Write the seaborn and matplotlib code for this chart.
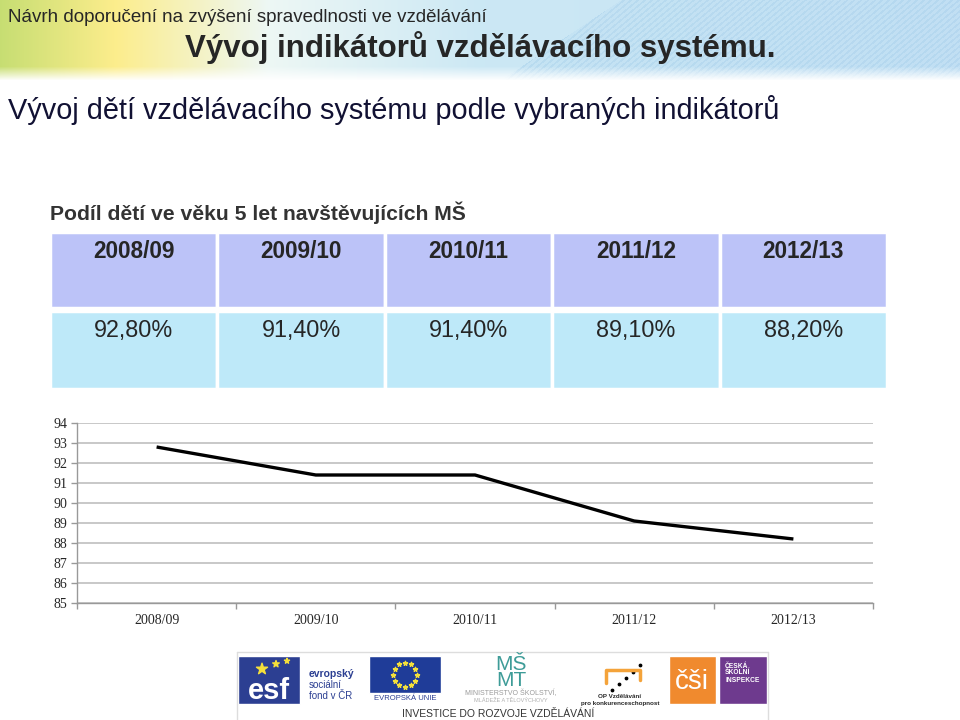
import numpy as np
import pandas as pd
import matplotlib
matplotlib.use('Agg')
from matplotlib import pyplot as plt
from matplotlib.patches import Rectangle
import seaborn as sns

# data
years = ['2008/09', '2009/10', '2010/11', '2011/12', '2012/13']
share = [92.8, 91.4, 91.4, 89.1, 88.2]
share_labels = ['92,80%', '91,40%', '91,40%', '89,10%', '88,20%']
y_ticks = list(range(85, 95))

header_top = 'Návrh doporučení na zvýšení spravedlnosti ve vzdělávání'
title = 'Vývoj indikátorů vzdělávacího systému.'
subtitle = 'Vývoj dětí vzdělávacího systému podle vybraných indikátorů'
table_title = 'Podíl dětí ve věku 5 let navštěvujících MŠ'

sns.set_theme(style='white')
SANS = ['Liberation Sans', 'DejaVu Sans']
SERIF = ['Liberation Serif', 'DejaVu Serif']
plt.rcParams['font.family'] = SANS

fig = plt.figure(figsize=(9.6, 7.2), dpi=100)

# background layer in pixel coordinates
bg = fig.add_axes([0, 0, 1, 1])
bg.set_xlim(0, 960)
bg.set_ylim(720, 0)
bg.axis('off')

# header gradient band
W, H = 960, 80
xx = np.linspace(0, 1, W)
grad = np.ones((H, W, 3))
stops = [0.0, 0.12, 0.28, 0.5, 1.0]
cols = np.array([[0.78, 0.87, 0.45], [0.99, 0.93, 0.55], [0.93, 0.97, 0.96],
                 [0.80, 0.91, 0.96], [0.78, 0.89, 0.96]])
for c in range(3):
    grad[:, :, c] = np.interp(xx, stops, cols[:, c])
yy, xg = np.mgrid[0:H, 0:W]
diag = xg > 620 - (yy / H) * 120
stripes = (np.sin((xg + yy * 1.2) * 0.9) > 0.3) & diag
grad[diag] = grad[diag] * 0.9 + np.array([0.55, 0.75, 0.90]) * 0.1
grad[stripes] = grad[stripes] * 0.85 + np.array([0.45, 0.68, 0.86]) * 0.15
fade = np.clip((yy - 66) / 14, 0, 1)[..., None]
grad = grad * (1 - fade) + fade
bg.imshow(grad, extent=(0, 960, 80, 0), aspect='auto', zorder=0)

bg.text(8, 17, header_top, fontsize=13.5, va='center', ha='left')
bg.text(480, 48, title, fontsize=22.5, weight='bold', va='center', ha='center')
bg.text(8, 110, subtitle, fontsize=20.8, color='#111133', va='center', ha='left')
bg.text(50, 213, table_title, fontsize=15.2, weight='bold', color='#333333',
        va='center', ha='left')

# table
tx0, tx1 = 50, 887
cw = (tx1 - tx0) / len(years)
for i, (yr, lab) in enumerate(zip(years, share_labels)):
    x0 = tx0 + i * cw
    bg.add_patch(Rectangle((x0, 232), cw, 76, facecolor='#BCC3F8', edgecolor='white', lw=2.5))
    bg.add_patch(Rectangle((x0, 311), cw, 78, facecolor='#BEE9F9', edgecolor='white', lw=2.5))
    bg.text(x0 + cw / 2, 251, yr, fontsize=16.3, weight='bold', ha='center', va='center')
    bg.text(x0 + cw / 2, 330, lab, fontsize=16.8, ha='center', va='center')

# line chart
ax = fig.add_axes([77 / 960, 1 - 603 / 720, 796 / 960, 180 / 720])
df = pd.DataFrame({'rok': years, 'podil': share})
sns.lineplot(data=df, x='rok', y='podil', ax=ax, color='black', lw=2.4,
             solid_joinstyle='round', solid_capstyle='butt', sort=False)
ax.set_xlim(-0.5, len(years) - 0.5)
ax.set_ylim(min(y_ticks), max(y_ticks))
ax.set_yticks(y_ticks)
ax.set_yticklabels([str(t) for t in y_ticks], family=SERIF, fontsize=10)
ax.set_xticks(range(len(years)))
ax.set_xticklabels(years, family=SERIF, fontsize=10)
ax.set_xticks(np.arange(-0.5, len(years)), minor=True)
ax.tick_params(axis='x', which='major', length=0, pad=8)
ax.tick_params(axis='x', which='minor', length=4, color='#999999', width=1, bottom=True)
ax.tick_params(axis='y', length=4, color='#999999', width=1, left=True, pad=3)
ax.grid(axis='y', color='#C4C4C4', lw=1.3)
ax.set_axisbelow(True)
ax.set_xlabel('')
ax.set_ylabel('')
for s in ['top', 'right']:
    ax.spines[s].set_visible(False)
for s in ['left', 'bottom']:
    ax.spines[s].set_color('#999999')
    ax.spines[s].set_linewidth(1)
ax.set_facecolor('none')

# logo strip
lg = fig.add_axes([0, 0, 1, 1], zorder=5)
lg.set_xlim(0, 960)
lg.set_ylim(720, 0)
lg.axis('off')
lg.plot([237, 768], [652, 652], color='#DDDDDD', lw=1)
lg.plot([237, 237], [652, 720], color='#DDDDDD', lw=1)
lg.plot([768, 768], [652, 720], color='#DDDDDD', lw=1)
# esf
lg.add_patch(Rectangle((238, 656), 62, 48, facecolor='#2C3F92'))
lg.text(269, 691, 'esf', color='white', fontsize=21, weight='bold', ha='center', va='center')
lg.scatter([262, 276, 287], [669, 664, 661], marker='*', s=[70, 25, 15], color='#F5E03A', zorder=6)
lg.text(309, 674, 'evropský', color='#2C3F92', fontsize=7.5, weight='bold', va='center')
lg.text(309, 685, 'sociální', color='#2C3F92', fontsize=7, va='center')
lg.text(309, 696, 'fond v ČR', color='#2C3F92', fontsize=7, va='center')
# EU
lg.add_patch(Rectangle((369, 656), 72, 37, facecolor='#1F3C98'))
ang = np.linspace(0, 2 * np.pi, 13)[:-1]
lg.scatter(405 + 12 * np.cos(ang), 674.5 + 12 * np.sin(ang), marker='*', s=10, color='#F5E03A')
lg.text(405, 699, 'EVROPSKÁ UNIE', color='#2C3F92', fontsize=5.5, ha='center', va='center')
# MSMT
lg.text(511, 673, 'MŠ\nMT', color='#3E9C98', fontsize=15, ha='center', va='center',
        linespacing=0.8)
lg.text(511, 693, 'MINISTERSTVO ŠKOLSTVÍ,', color='#9A9A9A', fontsize=5, ha='center', va='center')
lg.text(511, 700, 'MLÁDEŽE A TĚLOVÝCHOVY', color='#B0B0B0', fontsize=4, ha='center', va='center')
# OP
lg.plot([606, 606, 640, 640], [683, 670, 670, 680], color='#F4A33A', lw=2.5)
lg.scatter([612, 619, 626, 633, 640], [690, 684, 678, 672, 665], s=3, color='black')
lg.text(620, 697, 'OP Vzdělávání', fontsize=4.5, weight='bold', ha='center', va='center')
lg.text(620, 703, 'pro konkurenceschopnost', fontsize=4.5, weight='bold', ha='center', va='center')
# CSI
lg.add_patch(Rectangle((669, 656), 47, 48, facecolor='#F08A2E'))
lg.text(692, 682, 'čši', color='white', fontsize=20, ha='center', va='center')
lg.add_patch(Rectangle((719, 656), 48, 48, facecolor='#6E3A8E'))
lg.text(725, 673, 'ČESKÁ\nŠKOLNÍ\nINSPEKCE', color='white', fontsize=4.8, weight='bold',
        ha='left', va='center', linespacing=1.0)
lg.text(498, 714, 'INVESTICE DO ROZVOJE VZDĚLÁVÁNÍ', fontsize=7.5, color='#333333',
        ha='center', va='center')

fig.savefig('out.png', dpi=100)
